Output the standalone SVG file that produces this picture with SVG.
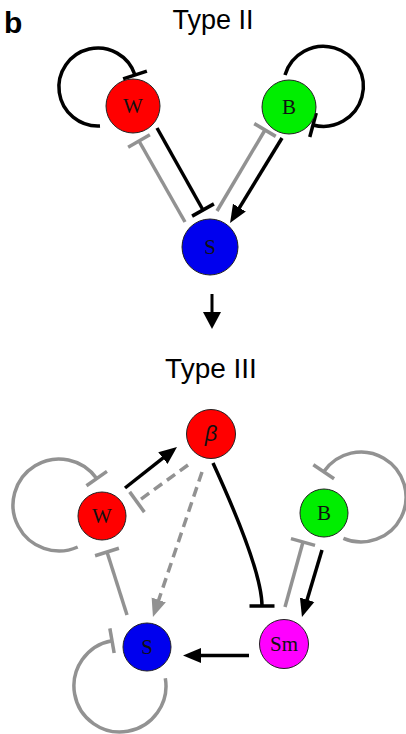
<svg xmlns="http://www.w3.org/2000/svg" width="406" height="734" viewBox="0 0 406 734">
<style>
.k{fill:none;stroke:#000;stroke-width:3.5}
.g{fill:none;stroke:#929292;stroke-width:3.5}
.d{stroke-dasharray:10,6}
.node{stroke:#222;stroke-width:1}
.lbl{font-family:"Liberation Serif","Times New Roman",serif;font-size:21px;fill:#111;text-anchor:middle}
.title{font-family:"Liberation Sans",Arial,sans-serif;fill:#000;text-anchor:middle}
</style>
<defs>
<marker id="barK" markerUnits="userSpaceOnUse" viewBox="-4 -14 8 28" markerWidth="8" markerHeight="28" refX="0" refY="0" orient="auto"><path d="M0,-12.5 L0,12.5" stroke="#000" stroke-width="3.5"/></marker>
<marker id="barG" markerUnits="userSpaceOnUse" viewBox="-4 -14 8 28" markerWidth="8" markerHeight="28" refX="0" refY="0" orient="auto"><path d="M0,-12.5 L0,12.5" stroke="#929292" stroke-width="3.5"/></marker>
<marker id="arrK" markerUnits="userSpaceOnUse" viewBox="0 -9 20 18" markerWidth="20" markerHeight="18" refX="6" refY="0" orient="auto"><path d="M0,-7.5 L18,0 L0,7.5 z" fill="#000"/></marker>
<marker id="arrG" markerUnits="userSpaceOnUse" viewBox="0 -9 20 18" markerWidth="20" markerHeight="18" refX="6" refY="0" orient="auto"><path d="M0,-7.5 L18,0 L0,7.5 z" fill="#929292"/></marker>
</defs>
<text x="4" y="33" font-family="Liberation Sans,Arial,sans-serif" font-weight="bold" font-size="30">b</text>
<text class="title" x="213" y="29" font-size="27">Type II</text>
<text class="title" x="211" y="378" font-size="28">Type III</text>
<g id="connectors">
<path class="g" d="M185,222 L139,141" marker-end="url(#barG)"/>
<path class="k" d="M157,128 L203,210" marker-end="url(#barK)"/>
<path class="g" d="M217,211 L265,130" marker-end="url(#barG)"/>
<path class="k" d="M282,138 L236.3,212.8" marker-end="url(#arrK)"/>
<path class="k" d="M100,126 A39,39 0 1 1 135,75" marker-end="url(#barK)"/>
<path class="k" d="M285,75 A40,40 0 1 1 313,125" marker-end="url(#barK)"/>
<path d="M212,294 L212,314" stroke="#000" stroke-width="3"/>
<path d="M203,312 L221,312 L212,329 z" fill="#000"/>
<path class="k" d="M125,488 L167.6,454.4" marker-end="url(#arrK)"/>
<path class="g d" d="M188,465 L137,502" marker-end="url(#barG)"/>
<path class="g d" d="M202,472 L156.8,605.6" marker-end="url(#arrG)"/>
<path class="k" d="M213,463 Q262,570 262,606" marker-end="url(#barK)"/>
<path class="g" d="M285,607 L303,542" marker-end="url(#barG)"/>
<path class="k" d="M322,550 L305.4,605.5" marker-end="url(#arrK)"/>
<path class="k" d="M249,655.5 L195,655.5" marker-end="url(#arrK)"/>
<path class="g" d="M127,615 L107,552" marker-end="url(#barG)"/>
<path class="g" d="M77.7,547 A46,46 0 1 1 96.7,478.6" marker-end="url(#barG)"/>
<path class="g" d="M343.4,538.4 A45,45 0 1 0 323.7,471.8" marker-end="url(#barG)"/>
<path class="g" d="M165.3,678.3 A46,46 0 1 1 112,640.7" marker-end="url(#barG)"/>
</g>
<g id="W2"><circle class="node" cx="133" cy="106" r="27" fill="#f00"/><text class="lbl" x="133" y="113">W</text></g>
<g id="B2"><circle class="node" cx="289" cy="107" r="27" fill="#00ee00"/><text class="lbl" x="289" y="114">B</text></g>
<g id="S2"><circle class="node" cx="210" cy="247" r="28" fill="#0000ee"/><text class="lbl" x="210" y="254">S</text></g>
<g id="beta"><circle class="node" cx="211" cy="434" r="24.5" fill="#f00"/><text x="211" y="441" font-family="Liberation Sans,Arial,sans-serif" font-style="italic" font-size="22" text-anchor="middle" fill="#111">β</text></g>
<g id="W3"><circle class="node" cx="102" cy="516" r="24" fill="#f00"/><text class="lbl" x="102" y="523">W</text></g>
<g id="B3"><circle class="node" cx="324" cy="513" r="24" fill="#00ee00"/><text class="lbl" x="324" y="520">B</text></g>
<g id="S3"><circle class="node" cx="147" cy="647" r="24" fill="#0000ee"/><text class="lbl" x="147" y="654">S</text></g>
<g id="Sm"><circle class="node" cx="284" cy="644" r="24.5" fill="#ff00ff"/><text class="lbl" x="284" y="651">Sm</text></g>
</svg>
